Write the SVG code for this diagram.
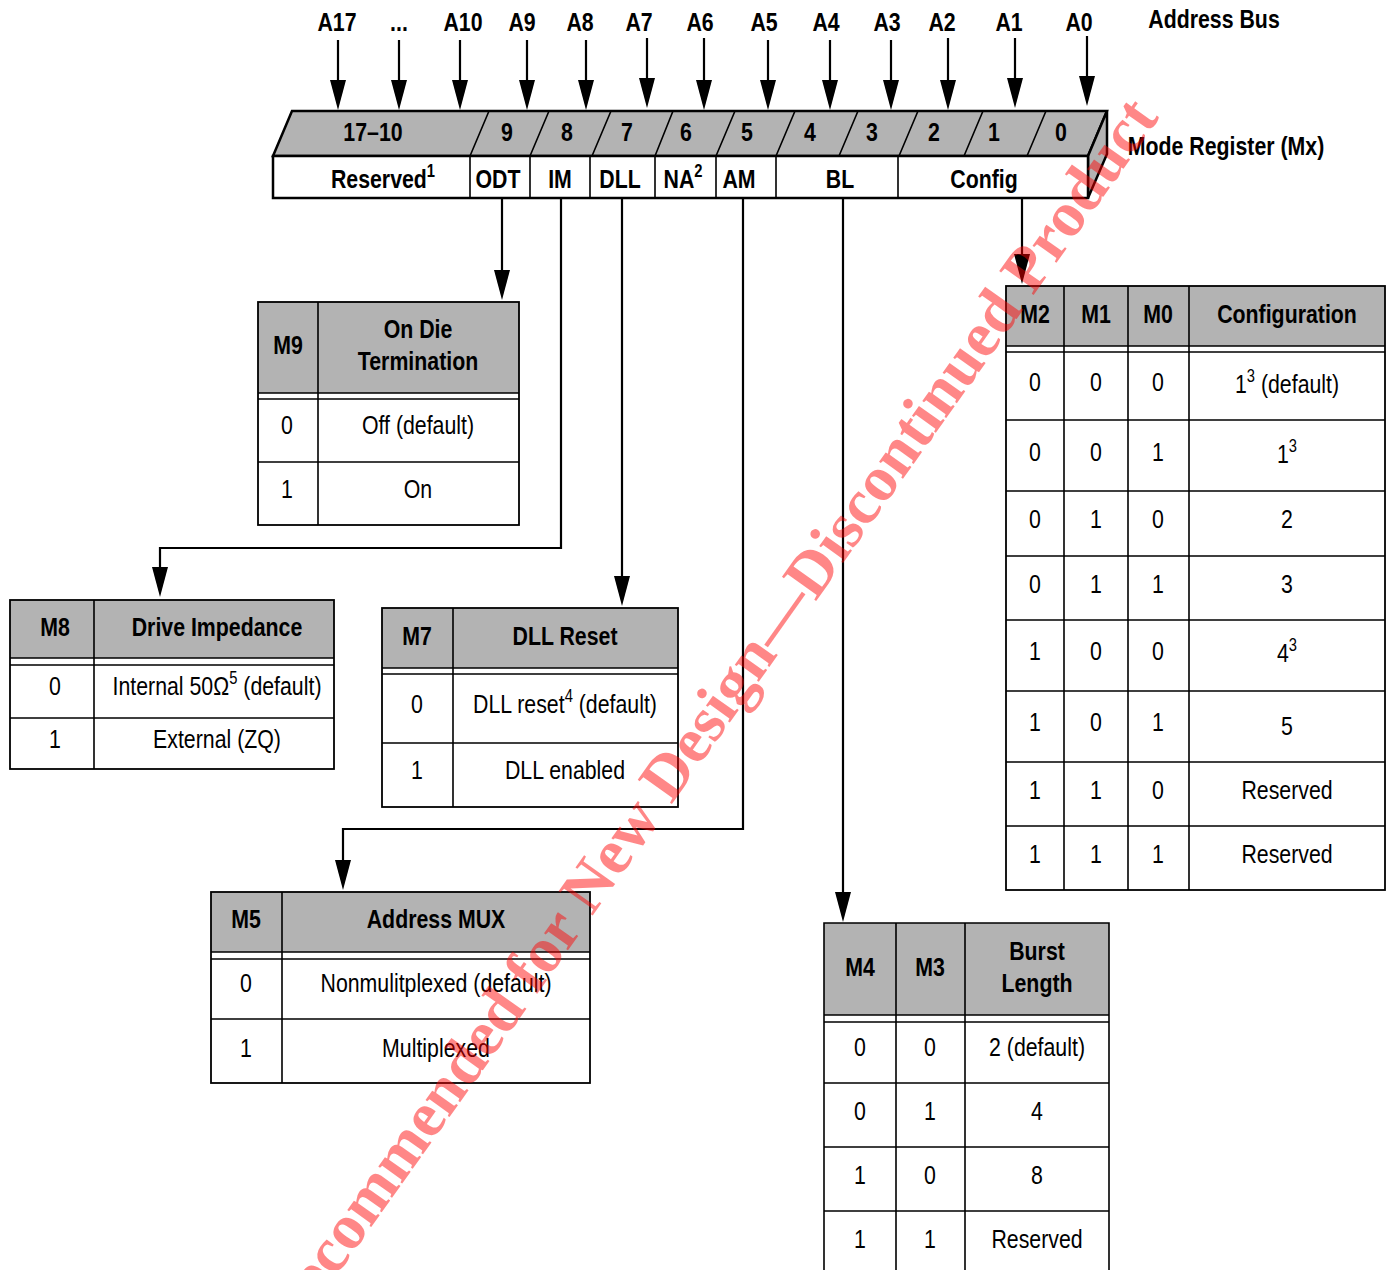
<svg xmlns="http://www.w3.org/2000/svg" width="1391" height="1270" viewBox="0 0 1391 1270">
<style>
.t{font-family:"Liberation Sans",Arial,sans-serif;font-size:26px;text-anchor:middle;fill:#000}
.b{font-weight:bold}
.hdr{fill:#b3b3b3;stroke:none}
.frame{fill:none;stroke:#000;stroke-width:1.8}
.grid{fill:none;stroke:#000;stroke-width:1.6}
.reg{stroke:#000;stroke-width:2.5;stroke-linejoin:miter}
.conn{fill:none;stroke:#000;stroke-width:2.2}
.head{fill:#000;stroke:none}
.wm{font-family:"Liberation Serif","Times New Roman",serif;font-weight:bold;font-size:64px;fill:#ff0000;fill-opacity:0.47;text-anchor:middle}
</style>
<rect x="0" y="0" width="1391" height="1270" fill="#fff"/>

<g id="address-bus">
  <text class="t b" transform="translate(337,31) scale(.82,1)">A17</text>
  <text class="t b" transform="translate(399,31) scale(.82,1)">...</text>
  <text class="t b" transform="translate(463,31) scale(.82,1)">A10</text>
  <text class="t b" transform="translate(522,31) scale(.82,1)">A9</text>
  <text class="t b" transform="translate(580,31) scale(.82,1)">A8</text>
  <text class="t b" transform="translate(639,31) scale(.82,1)">A7</text>
  <text class="t b" transform="translate(700,31) scale(.82,1)">A6</text>
  <text class="t b" transform="translate(764,31) scale(.82,1)">A5</text>
  <text class="t b" transform="translate(826,31) scale(.82,1)">A4</text>
  <text class="t b" transform="translate(887,31) scale(.82,1)">A3</text>
  <text class="t b" transform="translate(942,31) scale(.82,1)">A2</text>
  <text class="t b" transform="translate(1009,31) scale(.82,1)">A1</text>
  <text class="t b" transform="translate(1079,31) scale(.82,1)">A0</text>
  <text class="t b" transform="translate(1214,28) scale(.82,1)">Address Bus</text>
</g>

<g id="bus-arrows">
  <path class="conn" d="M338,40V82 M399,40V82 M460,40V82 M527,40V82 M586,40V82 M647,38V80 M704,38V82 M768,40V82 M830,40V82 M891,40V82 M948,38V82 M1015,38V80 M1087,36V78"/>
  <polygon class="head" points="330,80 346,80 338,110"/>
  <polygon class="head" points="391,80 407,80 399,110"/>
  <polygon class="head" points="452,80 468,80 460,110"/>
  <polygon class="head" points="519,80 535,80 527,110"/>
  <polygon class="head" points="578,80 594,80 586,110"/>
  <polygon class="head" points="639,78 655,78 647,108"/>
  <polygon class="head" points="696,80 712,80 704,110"/>
  <polygon class="head" points="760,80 776,80 768,110"/>
  <polygon class="head" points="822,80 838,80 830,110"/>
  <polygon class="head" points="883,80 899,80 891,110"/>
  <polygon class="head" points="940,80 956,80 948,110"/>
  <polygon class="head" points="1007,78 1023,78 1015,108"/>
  <polygon class="head" points="1079,76 1095,76 1087,106"/>
</g>

<g id="mode-register">
  <polygon class="reg" fill="#b3b3b3" points="292,111 1107,111 1088,156 273,156"/>
  <polygon class="reg" fill="#b3b3b3" points="1107,111 1107,154 1088,198 1088,156"/>
  <rect class="reg" fill="#fff" x="273" y="156" width="815" height="42"/>
  <path class="grid" stroke-width="2" d="M489,111L470,156 M549,111L530,156 M611,111L592,156 M673,111L655,156 M735,111L716,156 M795,111L776,156 M858,111L839,156 M918,111L899,156 M983,111L964,156 M1046,111L1027,156"/>
  <path class="grid" stroke-width="2.2" d="M470,156V198 M530,156V198 M590,156V198 M655,156V198 M716,156V198 M776,156V198 M898,156V198"/>
  <text class="t b" transform="translate(373,141) scale(.82,1)">17–10</text>
  <text class="t b" transform="translate(507,141) scale(.82,1)">9</text>
  <text class="t b" transform="translate(567,141) scale(.82,1)">8</text>
  <text class="t b" transform="translate(627,141) scale(.82,1)">7</text>
  <text class="t b" transform="translate(686,141) scale(.82,1)">6</text>
  <text class="t b" transform="translate(747,141) scale(.82,1)">5</text>
  <text class="t b" transform="translate(810,141) scale(.82,1)">4</text>
  <text class="t b" transform="translate(872,141) scale(.82,1)">3</text>
  <text class="t b" transform="translate(934,141) scale(.82,1)">2</text>
  <text class="t b" transform="translate(994,141) scale(.82,1)">1</text>
  <text class="t b" transform="translate(1061,141) scale(.82,1)">0</text>
  <text class="t b" transform="translate(383,188) scale(.82,1)">Reserved<tspan font-size="18" dy="-11">1</tspan></text>
  <text class="t b" transform="translate(498,188) scale(.82,1)">ODT</text>
  <text class="t b" transform="translate(560,188) scale(.82,1)">IM</text>
  <text class="t b" transform="translate(620,188) scale(.82,1)">DLL</text>
  <text class="t b" transform="translate(683,188) scale(.82,1)">NA<tspan font-size="18" dy="-11">2</tspan></text>
  <text class="t b" transform="translate(739,188) scale(.82,1)">AM</text>
  <text class="t b" transform="translate(840,188) scale(.82,1)">BL</text>
  <text class="t b" transform="translate(984,188) scale(.82,1)">Config</text>
  <text class="t b" transform="translate(1226,155) scale(.82,1)">Mode Register (Mx)</text>
</g>

<g id="connectors">
  <path class="conn" d="M502,198V272"/>
  <polygon class="head" points="494,270 510,270 502,300"/>
  <path class="conn" d="M561,198V548H160V569"/>
  <polygon class="head" points="152,567 168,567 160,597"/>
  <path class="conn" d="M622,198V578"/>
  <polygon class="head" points="614,576 630,576 622,606"/>
  <path class="conn" d="M743,198V829H343V862"/>
  <polygon class="head" points="335,860 351,860 343,890"/>
  <path class="conn" d="M843,198V894"/>
  <polygon class="head" points="835,892 851,892 843,922"/>
  <path class="conn" d="M1022,198V256"/>
  <polygon class="head" points="1014,254 1030,254 1022,284"/>
</g>

<g id="table-m9">
  <rect class="hdr" x="258" y="302" width="261" height="91"/>
  <rect class="frame" x="258" y="302" width="261" height="223"/>
  <path class="grid" d="M258,393H519 M258,399H519 M258,462H519 M318,302V525"/>
  <text class="t b" transform="translate(288,354) scale(.82,1)">M9</text>
  <text class="t b" transform="translate(418,338) scale(.82,1)">On Die</text>
  <text class="t b" transform="translate(418,370) scale(.82,1)">Termination</text>
  <text class="t" transform="translate(287,434) scale(.82,1)">0</text>
  <text class="t" transform="translate(418,434) scale(.82,1)">Off (default)</text>
  <text class="t" transform="translate(287,498) scale(.82,1)">1</text>
  <text class="t" transform="translate(418,498) scale(.82,1)">On</text>
</g>

<g id="table-m8">
  <rect class="hdr" x="10" y="600" width="324" height="58"/>
  <rect class="frame" x="10" y="600" width="324" height="169"/>
  <path class="grid" d="M10,658H334 M10,665H334 M10,718H334 M94,600V769"/>
  <text class="t b" transform="translate(55,636) scale(.82,1)">M8</text>
  <text class="t b" transform="translate(217,636) scale(.82,1)">Drive Impedance</text>
  <text class="t" transform="translate(55,695) scale(.82,1)">0</text>
  <text class="t" transform="translate(217,695) scale(.82,1)">Internal 50Ω<tspan font-size="18" dy="-11">5</tspan><tspan dy="11"> (default)</tspan></text>
  <text class="t" transform="translate(55,748) scale(.82,1)">1</text>
  <text class="t" transform="translate(217,748) scale(.82,1)">External (ZQ)</text>
</g>

<g id="table-m7">
  <rect class="hdr" x="382" y="608" width="296" height="60"/>
  <rect class="frame" x="382" y="608" width="296" height="199"/>
  <path class="grid" d="M382,668H678 M382,674H678 M382,743H678 M453,608V807"/>
  <text class="t b" transform="translate(417,645) scale(.82,1)">M7</text>
  <text class="t b" transform="translate(565,645) scale(.82,1)">DLL Reset</text>
  <text class="t" transform="translate(417,713) scale(.82,1)">0</text>
  <text class="t" transform="translate(565,713) scale(.82,1)">DLL reset<tspan font-size="18" dy="-11">4</tspan><tspan dy="11"> (default)</tspan></text>
  <text class="t" transform="translate(417,779) scale(.82,1)">1</text>
  <text class="t" transform="translate(565,779) scale(.82,1)">DLL enabled</text>
</g>

<g id="table-config">
  <rect class="hdr" x="1006" y="286" width="379" height="60"/>
  <rect class="frame" x="1006" y="286" width="379" height="604"/>
  <path class="grid" d="M1006,346H1385 M1006,352H1385 M1006,420H1385 M1006,491H1385 M1006,556H1385 M1006,620H1385 M1006,691H1385 M1006,762H1385 M1006,826H1385 M1064,286V890 M1128,286V890 M1189,286V890"/>
  <text class="t b" transform="translate(1035,323) scale(.82,1)">M2</text>
  <text class="t b" transform="translate(1096,323) scale(.82,1)">M1</text>
  <text class="t b" transform="translate(1158,323) scale(.82,1)">M0</text>
  <text class="t b" transform="translate(1287,323) scale(.82,1)">Configuration</text>
  <text class="t" transform="translate(1035,391) scale(.82,1)">0</text><text class="t" transform="translate(1096,391) scale(.82,1)">0</text><text class="t" transform="translate(1158,391) scale(.82,1)">0</text>
  <text class="t" transform="translate(1287,393) scale(.82,1)">1<tspan font-size="18" dy="-11">3</tspan><tspan dy="11"> (default)</tspan></text>
  <text class="t" transform="translate(1035,461) scale(.82,1)">0</text><text class="t" transform="translate(1096,461) scale(.82,1)">0</text><text class="t" transform="translate(1158,461) scale(.82,1)">1</text>
  <text class="t" transform="translate(1287,463) scale(.82,1)">1<tspan font-size="18" dy="-11">3</tspan></text>
  <text class="t" transform="translate(1035,528) scale(.82,1)">0</text><text class="t" transform="translate(1096,528) scale(.82,1)">1</text><text class="t" transform="translate(1158,528) scale(.82,1)">0</text>
  <text class="t" transform="translate(1287,528) scale(.82,1)">2</text>
  <text class="t" transform="translate(1035,593) scale(.82,1)">0</text><text class="t" transform="translate(1096,593) scale(.82,1)">1</text><text class="t" transform="translate(1158,593) scale(.82,1)">1</text>
  <text class="t" transform="translate(1287,593) scale(.82,1)">3</text>
  <text class="t" transform="translate(1035,660) scale(.82,1)">1</text><text class="t" transform="translate(1096,660) scale(.82,1)">0</text><text class="t" transform="translate(1158,660) scale(.82,1)">0</text>
  <text class="t" transform="translate(1287,662) scale(.82,1)">4<tspan font-size="18" dy="-11">3</tspan></text>
  <text class="t" transform="translate(1035,731) scale(.82,1)">1</text><text class="t" transform="translate(1096,731) scale(.82,1)">0</text><text class="t" transform="translate(1158,731) scale(.82,1)">1</text>
  <text class="t" transform="translate(1287,735) scale(.82,1)">5</text>
  <text class="t" transform="translate(1035,799) scale(.82,1)">1</text><text class="t" transform="translate(1096,799) scale(.82,1)">1</text><text class="t" transform="translate(1158,799) scale(.82,1)">0</text>
  <text class="t" transform="translate(1287,799) scale(.82,1)">Reserved</text>
  <text class="t" transform="translate(1035,863) scale(.82,1)">1</text><text class="t" transform="translate(1096,863) scale(.82,1)">1</text><text class="t" transform="translate(1158,863) scale(.82,1)">1</text>
  <text class="t" transform="translate(1287,863) scale(.82,1)">Reserved</text>
</g>

<g id="table-m5">
  <rect class="hdr" x="211" y="892" width="379" height="60"/>
  <rect class="frame" x="211" y="892" width="379" height="191"/>
  <path class="grid" d="M211,952H590 M211,959H590 M211,1019H590 M282,892V1083"/>
  <text class="t b" transform="translate(246,928) scale(.82,1)">M5</text>
  <text class="t b" transform="translate(436,928) scale(.82,1)">Address MUX</text>
  <text class="t" transform="translate(246,992) scale(.82,1)">0</text>
  <text class="t" transform="translate(436,992) scale(.82,1)">Nonmulitplexed (default)</text>
  <text class="t" transform="translate(246,1057) scale(.82,1)">1</text>
  <text class="t" transform="translate(436,1057) scale(.82,1)">Multiplexed</text>
</g>

<g id="table-burst">
  <rect class="hdr" x="824" y="923" width="285" height="92"/>
  <path class="grid" stroke-width="1.8" d="M824,1272V923H1109V1272"/>
  <path class="grid" d="M824,1015H1109 M824,1022H1109 M824,1083H1109 M824,1147H1109 M824,1211H1109 M896,923V1272 M965,923V1272"/>
  <text class="t b" transform="translate(860,976) scale(.82,1)">M4</text>
  <text class="t b" transform="translate(930,976) scale(.82,1)">M3</text>
  <text class="t b" transform="translate(1037,960) scale(.82,1)">Burst</text>
  <text class="t b" transform="translate(1037,992) scale(.82,1)">Length</text>
  <text class="t" transform="translate(860,1056) scale(.82,1)">0</text><text class="t" transform="translate(930,1056) scale(.82,1)">0</text><text class="t" transform="translate(1037,1056) scale(.82,1)">2 (default)</text>
  <text class="t" transform="translate(860,1120) scale(.82,1)">0</text><text class="t" transform="translate(930,1120) scale(.82,1)">1</text><text class="t" transform="translate(1037,1120) scale(.82,1)">4</text>
  <text class="t" transform="translate(860,1184) scale(.82,1)">1</text><text class="t" transform="translate(930,1184) scale(.82,1)">0</text><text class="t" transform="translate(1037,1184) scale(.82,1)">8</text>
  <text class="t" transform="translate(860,1248) scale(.82,1)">1</text><text class="t" transform="translate(930,1248) scale(.82,1)">1</text><text class="t" transform="translate(1037,1248) scale(.82,1)">Reserved</text>
</g>

<g id="watermark">
  <text class="wm" transform="translate(726,728) rotate(-54.6)">Recommended for New Design—Discontinued Product</text>
</g>
</svg>
